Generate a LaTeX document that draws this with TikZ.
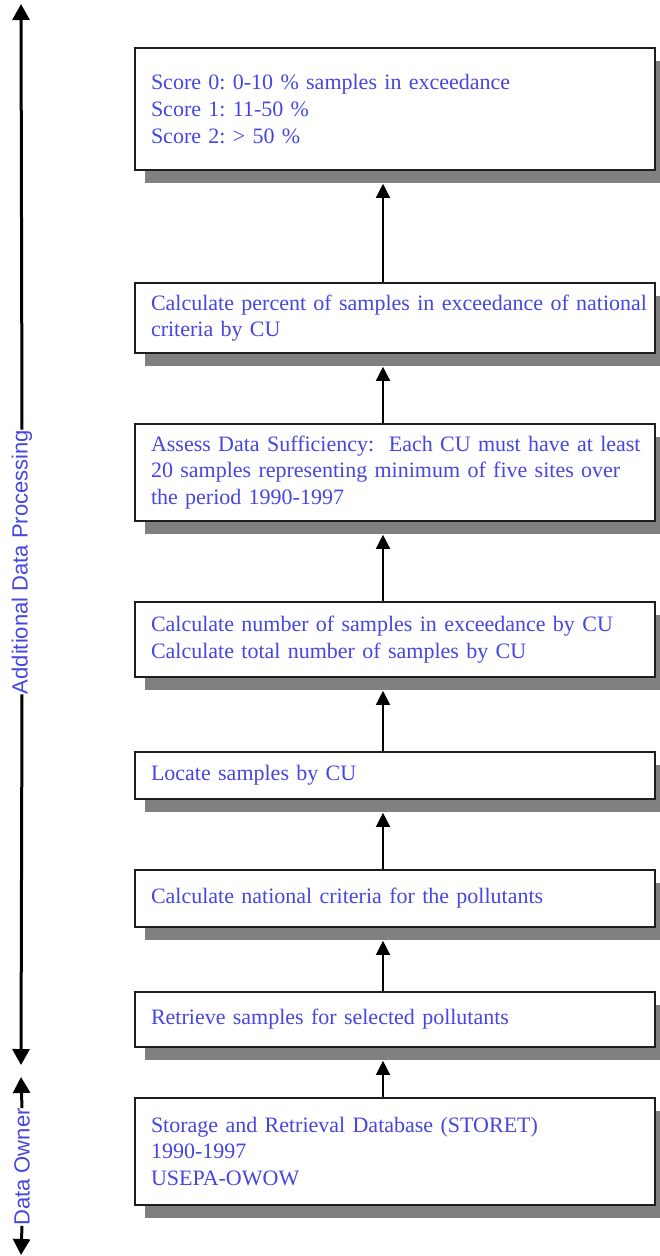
\documentclass[tikz,border=0pt]{standalone}
\usepackage{fontspec}
\setmainfont{Liberation Serif}
\newfontfamily\axisfont{Liberation Sans}
\usetikzlibrary{arrows.meta,shadows}
\definecolor{txtblue}{RGB}{70,70,225}
\definecolor{shadowgray}{RGB}{128,128,128}
\definecolor{edge}{RGB}{30,30,30}
\frenchspacing
\hyphenpenalty=10000
\newcommand{\ind}{\hspace*{16pt}}
\begin{document}
\begin{tikzpicture}[x=1pt,y=-1pt,
  box/.style={draw=edge, line width=1.6pt, fill=white, rectangle,
    minimum width=520pt, text width=520pt, inner xsep=0pt, inner ysep=0pt,
    align=left, text=txtblue,
    font=\fontsize{22}{26.7}\selectfont,
    drop shadow={shadow xshift=10pt, shadow yshift=-13pt, fill=shadowgray, opacity=1}},
  flow/.style={line width=1.4pt, draw=black, -{Triangle[width=14pt,length=14pt]}},
  axis/.style={line width=3pt, draw=black},
  axistip/.style={-{Triangle[width=17pt,length=16pt]}},
  axlabel/.style={rotate=90, text=txtblue, inner sep=0pt, font=\axisfont\fontsize{22}{26}\selectfont}
]
\useasboundingbox (0,0) rectangle (660,1256);

\node[box, minimum height=122pt] (b1) at (395,109)
  {\ind Score 0: 0-10 \% samples in exceedance\\\ind Score 1: 11-50 \%\\\ind Score 2: > 50 \%};
\node[box, minimum height=70pt] (b2) at (395,318)
  {\ind Calculate percent of samples in exceedance of national\\\ind criteria by CU};
\node[box, minimum height=97pt] (b3) at (395,472.5)
  {\ind Assess Data Sufficiency:\ \ Each CU must have at least\\\ind 20 samples representing minimum of five sites over\\\ind the period 1990-1997};
\node[box, minimum height=75pt] (b4) at (395,639.5)
  {\ind Calculate number of samples in exceedance by CU\\\ind Calculate total number of samples by CU};
\node[box, minimum height=47pt] (b5) at (395,775.5)
  {\ind Locate samples by CU};
\node[box, minimum height=57pt] (b6) at (395,898.5)
  {\ind Calculate national criteria for the pollutants};
\node[box, minimum height=55pt] (b7) at (395,1019.5)
  {\ind Retrieve samples for selected pollutants};
\node[box, minimum height=107pt] (b8) at (395,1151.5)
  {\ind Storage and Retrieval Database (STORET)\\\ind 1990-1997\\\ind USEPA-OWOW};

\coordinate (ax) at (383,0);
\foreach \lo/\up in {b8/b7, b7/b6, b6/b5, b5/b4, b4/b3, b3/b2, b2/b1}
  \draw[flow] (\lo.north -| ax) -- ([yshift=-13pt]\up.south -| ax);

% left axis
\coordinate (a1top) at (21,4);
\coordinate (a1bot) at (21,1065);
\coordinate (a2top) at (21,1077);
\coordinate (a2bot) at (21,1255);
\node[axlabel] (l1) at (22,562) {Additional Data Processing};
\node[axlabel] (l2) at (22,1167) {Data Owner};
\draw[axis, axistip] (l1.east) -- (a1top);
\draw[axis, axistip] (l1.west) -- (a1bot);
\draw[axis, axistip] (l2.east) -- (a2top);
\draw[axis, axistip] (l2.west) -- (a2bot);
\end{tikzpicture}
\end{document}
